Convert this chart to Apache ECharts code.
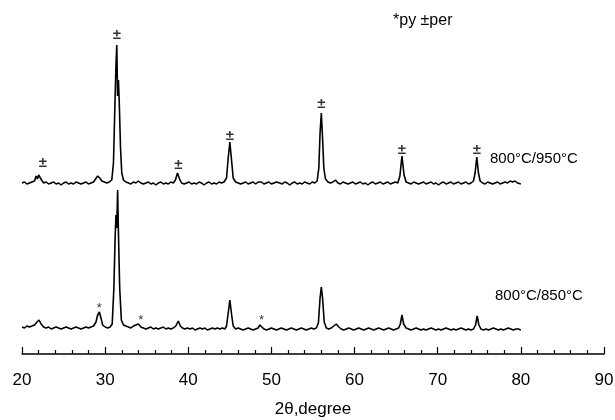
<!DOCTYPE html>
<html>
<head>
<meta charset="utf-8">
<script src="https://cdn.jsdelivr.net/npm/echarts@6/dist/echarts.min.js"></script>
<style>
  html, body { margin: 0; padding: 0; background: #fff; }
  #main { width: 615px; height: 420px; }
</style>
</head>
<body>
<div id="main"></div>
<script>
// x ticks
var xTicks = [20, 30, 40, 50, 60, 70, 80, 90];

// 800°C/950°C trace (plotted stacked above the other one), [2theta, intensity]
var trace950 = [
  [20.0,145],[20.3,146],[20.6,144],[20.9,145],[21.2,146],[21.5,147],[21.7,152],[21.85,149],[22.0,153],[22.15,154],
  [22.35,148],[22.6,145],[22.9,146],[23.2,144],[23.5,145],[23.8,146],[24.1,144],[24.4,145],[24.7,143],[25.0,145],
  [25.3,146],[25.6,144],[25.9,145],[26.2,144],[26.5,146],[26.8,145],[27.1,144],[27.4,145],[27.7,146],[28.0,144],
  [28.3,145],[28.6,146],[28.85,149],[29.1,152],[29.35,150],[29.6,147],[29.9,146],[30.2,145],[30.5,146],[30.8,148],
  [31.0,165],[31.15,215],[31.3,262],[31.4,283],[31.5,232],[31.6,248],[31.7,225],[31.85,180],[32.0,155],[32.2,148],
  [32.5,146],[32.8,145],[33.1,144],[33.4,146],[33.7,145],[34.0,147],[34.3,145],[34.6,144],[34.9,145],[35.2,146],
  [35.5,144],[35.8,145],[36.1,143],[36.4,145],[36.7,146],[37.0,144],[37.3,145],[37.6,144],[37.9,146],[38.2,145],
  [38.45,148],[38.7,155],[38.95,149],[39.2,145],[39.5,144],[39.8,145],[40.1,146],[40.4,144],[40.7,145],[41.0,144],
  [41.3,146],[41.6,145],[41.9,143],[42.2,145],[42.5,146],[42.8,144],[43.1,145],[43.4,144],[43.7,146],[44.0,145],
  [44.3,146],[44.6,150],[44.8,170],[45.0,186],[45.2,168],[45.4,150],[45.7,146],[46.0,145],[46.3,144],[46.6,145],
  [46.9,146],[47.2,144],[47.5,145],[47.8,146],[48.1,144],[48.4,146],[48.6,148],[48.8,146],[49.1,144],[49.4,145],
  [49.7,146],[50.0,144],[50.3,145],[50.6,146],[50.8,148],[51.0,145],[51.3,144],[51.6,146],[51.9,145],[52.2,143],
  [52.5,145],[52.8,146],[53.1,144],[53.4,145],[53.7,144],[54.0,146],[54.3,145],[54.6,144],[54.9,146],[55.2,145],
  [55.5,147],[55.7,160],[55.85,195],[56.0,215],[56.15,190],[56.3,160],[56.5,149],[56.8,146],[57.1,145],[57.4,146],
  [57.7,148],[58.0,145],[58.3,144],[58.6,146],[58.9,145],[59.2,144],[59.5,145],[59.8,146],[60.1,144],[60.4,145],
  [60.7,146],[61.0,144],[61.3,145],[61.6,143],[61.9,145],[62.2,146],[62.5,144],[62.8,145],[63.1,146],[63.4,144],
  [63.7,145],[64.0,146],[64.3,144],[64.6,145],[64.9,146],[65.2,145],[65.45,152],[65.7,172],[65.95,153],[66.2,146],
  [66.5,145],[66.8,144],[67.1,146],[67.4,145],[67.7,144],[68.0,145],[68.3,146],[68.6,144],[68.9,145],[69.2,146],
  [69.5,144],[69.8,145],[70.1,143],[70.4,145],[70.7,146],[71.0,144],[71.3,145],[71.6,146],[71.9,144],[72.2,145],
  [72.5,146],[72.8,144],[73.1,145],[73.4,146],[73.7,144],[74.0,145],[74.3,147],[74.5,155],[74.7,171],[74.9,155],
  [75.1,147],[75.4,145],[75.7,144],[76.0,146],[76.3,145],[76.6,144],[76.9,145],[77.2,146],[77.5,144],[77.8,145],
  [78.1,146],[78.4,145],[78.7,147],[79.0,146],[79.3,147],[79.6,145],[80.0,144]
];

// 800°C/850°C trace
var trace850 = [
  [20.0,1],[20.3,0],[20.6,2],[20.9,1],[21.2,2],[21.5,3],[21.8,6],[22.05,8],[22.3,4],[22.6,1],
  [22.9,0],[23.2,1],[23.5,-1],[23.8,0],[24.1,1],[24.4,0],[24.7,-1],[25.0,0],[25.3,1],[25.6,0],
  [25.9,-1],[26.2,0],[26.5,1],[26.8,0],[27.1,-1],[27.4,0],[27.7,1],[28.0,0],[28.3,1],[28.6,2],
  [28.9,6],[29.1,13],[29.3,16],[29.5,10],[29.7,3],[30.0,1],[30.3,0],[30.6,1],[30.85,4],[31.05,40],
  [31.2,90],[31.3,113],[31.4,100],[31.5,138],[31.6,95],[31.75,40],[31.95,8],[32.2,3],[32.5,2],[32.8,1],
  [33.1,0],[33.4,2],[33.7,3],[34.0,4],[34.3,1],[34.6,0],[34.9,-1],[35.2,0],[35.5,1],[35.8,-1],
  [36.1,0],[36.4,-1],[36.7,0],[37.0,1],[37.3,-1],[37.6,0],[37.9,-1],[38.2,0],[38.5,2],[38.8,7],
  [39.05,2],[39.3,0],[39.6,-1],[39.9,0],[40.2,-1],[40.5,0],[40.8,-2],[41.1,-1],[41.4,0],[41.7,-1],
  [42.0,0],[42.3,-2],[42.6,-1],[42.9,0],[43.2,-1],[43.5,0],[43.8,-1],[44.1,0],[44.4,-1],[44.6,2],
  [44.8,15],[45.0,28],[45.2,14],[45.4,2],[45.7,-1],[46.0,0],[46.3,-1],[46.6,-2],[46.9,-1],[47.2,0],
  [47.5,-1],[47.8,-2],[48.1,-1],[48.4,0],[48.6,3],[48.8,1],[49.1,-1],[49.4,-2],[49.7,-1],[50.0,0],
  [50.3,-1],[50.6,-2],[50.9,-1],[51.2,0],[51.5,-1],[51.8,-2],[52.1,-1],[52.4,0],[52.7,-1],[53.0,-2],
  [53.3,-1],[53.6,0],[53.9,-1],[54.2,-2],[54.5,-1],[54.8,0],[55.1,-1],[55.4,0],[55.65,5],[55.85,30],
  [56.0,41],[56.15,30],[56.35,6],[56.6,0],[56.9,-1],[57.2,0],[57.5,2],[57.8,4],[58.1,1],[58.4,-1],
  [58.7,-2],[59.0,-1],[59.3,0],[59.6,-1],[59.9,-2],[60.2,-1],[60.5,0],[60.8,-1],[61.1,-2],[61.4,-1],
  [61.7,0],[62.0,-1],[62.3,-2],[62.6,-1],[62.9,0],[63.2,-1],[63.5,-2],[63.8,-1],[64.1,0],[64.4,-1],
  [64.7,-2],[65.0,-1],[65.3,0],[65.5,4],[65.7,13],[65.9,4],[66.2,0],[66.5,-1],[66.8,-2],[67.1,-1],
  [67.4,0],[67.7,-1],[68.0,-2],[68.3,-1],[68.6,-2],[68.9,-1],[69.2,0],[69.5,-1],[69.8,-2],[70.1,-1],
  [70.4,-2],[70.7,-1],[71.0,0],[71.3,-1],[71.6,-2],[71.9,-1],[72.2,-2],[72.5,-1],[72.8,0],[73.1,-1],
  [73.4,-2],[73.7,-1],[74.0,-2],[74.3,-1],[74.55,3],[74.75,12],[74.95,3],[75.2,-1],[75.5,-2],[75.8,-1],
  [76.1,-2],[76.4,-1],[76.7,0],[77.0,-1],[77.3,-2],[77.6,-1],[77.9,-2],[78.2,-1],[78.5,0],[78.8,-1],
  [79.1,-2],[79.4,-1],[79.7,-1],[80.0,-2]
];

// phase marks: ± perovskite, * pyrochlore
var perMarks = [[22.5,165],[31.4,293],[38.8,163],[45.0,192],[56.0,224],[65.7,178],[74.7,178]];
var pyMarks = [[29.3,20],[34.3,8],[48.8,8]];

var FONT = '"Liberation Sans", Arial, Helvetica, sans-serif';

var chart = echarts.init(document.getElementById('main'));
var option = {
    animation: false,
    backgroundColor: '#fff',
    grid: { left: 22, right: 11, top: 28, bottom: 66, outerBoundsMode: 'none' },
    xAxis: {
        type: 'value',
        min: xTicks[0],
        max: xTicks[xTicks.length - 1],
        interval: 10,
        name: '2θ,degree',
        nameLocation: 'middle',
        nameGap: 47,
        nameTextStyle: { color: '#000', fontSize: 17, fontFamily: FONT },
        axisLine: { onZero: false, lineStyle: { color: '#000', width: 1.5 } },
        axisTick: { inside: true, length: 7, lineStyle: { color: '#000', width: 1.2 } },
        minorTick: { show: true, splitNumber: 5, length: 4, lineStyle: { color: '#000', width: 1.2 } },
        axisLabel: { color: '#000', fontSize: 17, margin: 18, fontFamily: FONT },
        splitLine: { show: false }
    },
    yAxis: {
        type: 'value',
        min: -26,
        max: 300,
        show: false
    },
    graphic: [
        { type: 'text', left: 393, top: 13, style: { text: '*py ±per', fontSize: 16, fontFamily: FONT, fill: '#000' } },
        { type: 'text', left: 490, top: 151, style: { text: '800°C/950°C', fontSize: 15, fontFamily: FONT, fill: '#000' } },
        { type: 'text', left: 495, top: 288, style: { text: '800°C/850°C', fontSize: 15, fontFamily: FONT, fill: '#000' } }
    ],
    series: [
        {
            name: '800°C/950°C',
            type: 'line',
            data: trace950,
            showSymbol: false,
            lineStyle: { color: '#000', width: 1.6 }
        },
        {
            name: '800°C/850°C',
            type: 'line',
            data: trace850,
            showSymbol: false,
            lineStyle: { color: '#000', width: 1.6 }
        },
        {
            type: 'scatter',
            data: perMarks,
            symbolSize: 0,
            label: { show: true, position: 'inside', formatter: '±', color: '#000', fontSize: 15, fontWeight: 'bold', fontFamily: FONT }
        },
        {
            type: 'scatter',
            data: pyMarks,
            symbolSize: 0,
            label: { show: true, position: 'inside', formatter: '*', color: '#000', fontSize: 13, fontFamily: FONT }
        }
    ]
};
chart.setOption(option);
</script>
</body>
</html>
